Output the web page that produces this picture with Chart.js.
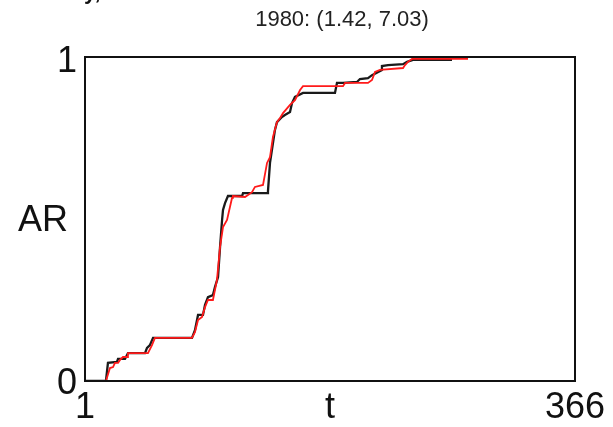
<!DOCTYPE html>
<html lang="en">
<head>
<meta charset="UTF-8">
<title>1980 AR curve</title>
<script src="https://cdn.jsdelivr.net/npm/chart.js"></script>
<style>
    html, body {
        margin: 0;
        padding: 0;
        background: #fff;
        overflow: hidden;
    }
    #wrap {
        position: relative;
        width: 613px;
        height: 427px;
    }
    #cut {
        position: absolute;
        left: 84px;
        top: -21px;
        font: bold 22px 'Liberation Sans', Arial, sans-serif;
        color: #111;
    }
</style>
</head>
<body>
<div id="wrap">
    <canvas id="chart" width="613" height="427"></canvas>
    <div id="cut">y,</div>
</div>
<script>
// black curve (observed)
const blackT = [1, 16.6, 18.1, 24.8, 25.6, 30.8, 33.0, 45.7, 47.2, 49.4, 51.7, 80.7, 82.9, 85.2, 88.9, 90.4, 92.6, 96.3, 97.8, 100.1, 101.6, 103.1, 103.8, 105.3, 107.5, 118.0, 118.7, 136.6, 137.3, 138.8, 142.5, 144.0, 147.7, 149.9, 153.7, 155.2, 157.4, 163.4, 187.2, 188.7, 193.2, 203.6, 205.8, 211.8, 214.8, 222.2, 222.2, 226.7, 237.9, 240.9, 245.3, 274.4];
const blackAR = [0, 0, 0.056, 0.059, 0.068, 0.068, 0.086, 0.086, 0.102, 0.111, 0.133, 0.133, 0.157, 0.204, 0.204, 0.235, 0.259, 0.265, 0.290, 0.321, 0.414, 0.497, 0.528, 0.549, 0.571, 0.571, 0.580, 0.580, 0.586, 0.673, 0.775, 0.799, 0.815, 0.821, 0.830, 0.858, 0.877, 0.889, 0.889, 0.920, 0.920, 0.923, 0.932, 0.935, 0.944, 0.960, 0.972, 0.975, 0.978, 0.985, 0.991, 0.991];

// red curve (fitted)
const redT = [16.6, 19.6, 21.9, 23.3, 25.6, 27.1, 29.3, 32.3, 33.0, 47.9, 50.9, 53.1, 80.7, 82.9, 85.2, 88.2, 90.4, 92.6, 96.3, 99.3, 101.6, 103.8, 106.8, 110.5, 111.2, 120.2, 122.4, 125.4, 127.6, 133.6, 136.6, 138.8, 141.0, 144.0, 146.3, 148.5, 153.7, 157.4, 161.2, 163.4, 193.2, 194.7, 211.8, 214.8, 217.0, 220.7, 237.9, 239.4, 241.6, 244.6, 286.3];
const redAR = [0, 0.040, 0.043, 0.056, 0.056, 0.065, 0.074, 0.074, 0.086, 0.086, 0.111, 0.133, 0.133, 0.151, 0.188, 0.198, 0.228, 0.250, 0.250, 0.312, 0.414, 0.475, 0.497, 0.565, 0.571, 0.568, 0.574, 0.583, 0.599, 0.605, 0.673, 0.691, 0.753, 0.799, 0.812, 0.827, 0.852, 0.867, 0.898, 0.910, 0.910, 0.920, 0.920, 0.929, 0.954, 0.960, 0.966, 0.975, 0.985, 0.994, 0.994];

const titleText = '1980: (1.42, 7.03)';
const xTickLabels = ['1', '366'];
const yTickLabels = ['0', '1'];
const xName = 't';
const yName = 'AR';

function toPoints(xs, ys) {
    return xs.map((x, i) => ({ x: x, y: ys[i] }));
}

const FONT = "'Liberation Sans', Arial, sans-serif";

// frame + all texts drawn around the chart area
const framePlugin = {
    id: 'frame',
    afterDraw(chart) {
        const ctx = chart.ctx;
        const a = chart.chartArea;
        const xs = chart.scales.x;
        const ys = chart.scales.y;
        ctx.save();
        ctx.strokeStyle = '#111';
        ctx.lineWidth = 2;
        ctx.strokeRect(a.left, a.top, a.right - a.left, a.bottom - a.top);

        ctx.fillStyle = '#111';
        ctx.font = '36px ' + FONT;
        ctx.textBaseline = 'middle';
        ctx.textAlign = 'center';
        ctx.fillText(xTickLabels[0], xs.getPixelForValue(1), a.bottom + 27);
        ctx.fillText(xTickLabels[1], xs.getPixelForValue(366), a.bottom + 27);
        ctx.fillText(xName, (a.left + a.right) / 2, a.bottom + 27);

        ctx.textAlign = 'right';
        ctx.fillText(yTickLabels[0], a.left - 8, ys.getPixelForValue(0) + 3);
        ctx.fillText(yTickLabels[1], a.left - 8, ys.getPixelForValue(1) + 5);
        ctx.fillText(yName, 68, (a.top + a.bottom) / 2 + 2);

        ctx.font = '22px ' + FONT;
        ctx.textAlign = 'center';
        ctx.fillStyle = '#222';
        ctx.fillText(titleText, 342, 20);
        ctx.restore();
    }
};

new Chart(document.getElementById('chart').getContext('2d'), {
    type: 'line',
    data: {
        datasets: [
            {
                label: 'fitted',
                data: toPoints(redT, redAR),
                borderColor: '#ff1a1a',
                borderWidth: 1.8,
                pointRadius: 0,
                tension: 0,
                order: 0
            },
            {
                label: 'observed',
                data: toPoints(blackT, blackAR),
                borderColor: '#1a1a1a',
                borderWidth: 2.3,
                pointRadius: 0,
                tension: 0,
                order: 1
            }
        ]
    },
    options: {
        responsive: false,
        animation: false,
        layout: {
            padding: { left: 85, right: 38, top: 57, bottom: 46 }
        },
        scales: {
            x: { type: 'linear', min: 1, max: 366, display: false },
            y: { type: 'linear', min: 0, max: 1, display: false }
        },
        plugins: {
            legend: { display: false },
            tooltip: { enabled: false }
        }
    },
    plugins: [framePlugin]
});
</script>
</body>
</html>
